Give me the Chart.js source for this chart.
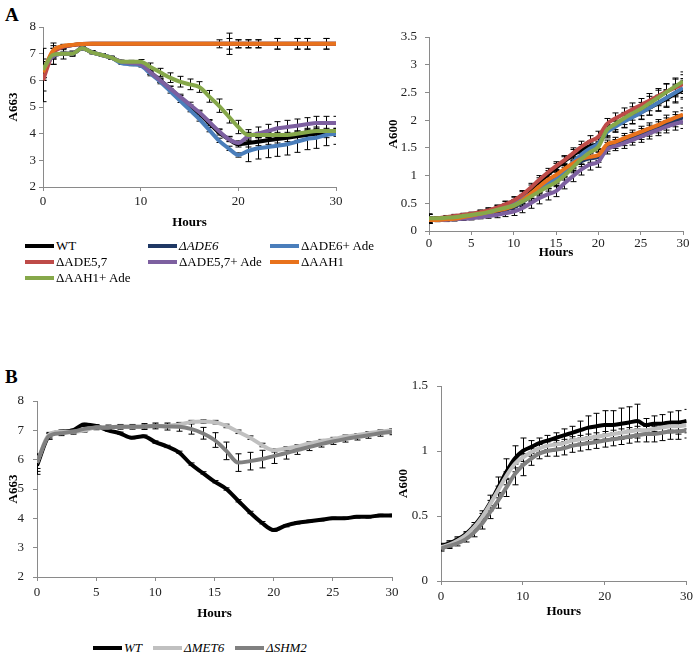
<!DOCTYPE html>
<html>
<head>
<meta charset="utf-8">
<script src="https://cdn.jsdelivr.net/npm/chart.js@4.4.1/dist/chart.umd.min.js"></script>
<style>
  body { margin: 0; background: #fff; width: 697px; height: 655px; position: relative; overflow: hidden; font-family: "Liberation Serif", "Times New Roman", serif; color: #000; }
  .wrap { position: absolute; }
  .tag { position: absolute; font-weight: bold; font-size: 19px; }
  .leg { position: absolute; font-size: 13px; display: flex; align-items: center; white-space: nowrap; height: 14px; }
  .leg .sw { display: inline-block; width: 29px; height: 4px; margin-right: 2px; }
</style>
</head>
<body>

<div class="tag" style="left:5px; top:4px;">A</div>
<div class="tag" style="left:5px; top:366px;">B</div>

<div class="wrap" style="left:0; top:0;"><canvas id="a663" width="350" height="232"></canvas></div>
<div class="wrap" style="left:350px; top:0;"><canvas id="a600" width="347" height="262"></canvas></div>
<div class="wrap" style="left:0; top:330px;"><canvas id="b663" width="410" height="295"></canvas></div>
<div class="wrap" style="left:350px; top:330px;"><canvas id="b600" width="347" height="295"></canvas></div>

<div id="legendA"></div>
<div id="legendB"></div>

<script>
// tempo (h), uma leitura por hora
const hours = [0,1,2,3,4,5,6,7,8,9,10,11,12,13,14,15,16,17,18,19,20,21,22,23,24,25,26,27,28,29,30];

// ---- painel A, A663 ----
const wtA663       = [6.4,6.9,7.0,7.0,7.2,7.05,6.95,6.85,6.7,6.65,6.6,6.3,6.0,5.7,5.35,5.0,4.75,4.4,4.05,3.8,3.6,3.65,3.7,3.75,3.8,3.85,3.9,3.95,4.0,4.0,4.05];
const ade6A663     = [6.3,7.05,7.25,7.32,7.36,7.37,7.37,7.37,7.37,7.37,7.37,7.37,7.37,7.37,7.37,7.37,7.37,7.37,7.37,7.37,7.37,7.37,7.37,7.37,7.37,7.37,7.37,7.37,7.37,7.37,7.37];
const ade6AdeA663  = [6.4,6.9,7.0,7.0,7.2,7.05,6.95,6.85,6.65,6.6,6.55,6.25,5.95,5.6,5.25,4.9,4.55,4.15,3.75,3.45,3.2,3.35,3.45,3.5,3.55,3.6,3.7,3.8,3.85,3.95,4.0];
const ade57A663    = [6.0,7.0,7.25,7.32,7.36,7.37,7.37,7.37,7.37,7.37,7.37,7.37,7.37,7.37,7.37,7.37,7.37,7.37,7.37,7.37,7.37,7.37,7.37,7.37,7.37,7.37,7.37,7.37,7.37,7.37,7.37];
const ade57AdeA663 = [6.4,6.9,7.0,7.0,7.2,7.05,6.95,6.85,6.7,6.65,6.6,6.3,6.0,5.7,5.4,5.1,4.8,4.45,4.1,3.8,3.65,3.9,4.0,4.1,4.2,4.25,4.3,4.35,4.4,4.4,4.4];
const aah1A663     = [6.3,7.1,7.28,7.33,7.36,7.37,7.37,7.37,7.37,7.37,7.37,7.37,7.37,7.37,7.37,7.37,7.37,7.37,7.37,7.37,7.37,7.37,7.37,7.37,7.37,7.37,7.37,7.37,7.37,7.37,7.37];
const aah1AdeA663  = [6.4,6.95,7.0,7.0,7.2,7.05,6.95,6.85,6.7,6.7,6.7,6.5,6.3,6.1,5.95,5.85,5.75,5.4,5.05,4.65,4.25,3.95,3.95,3.95,3.95,3.95,4.0,4.05,4.1,4.1,4.1];

const wtErrA663       = [0.8,0.3,0.2,0.1,0.05,0.05,0.05,0.05,0.05,0.05,0.05,0.08,0.08,0.08,0.08,0.08,0.1,0.1,0.1,0.1,0.1,0.15,0.15,0.15,0.15,0.15,0.15,0.15,0.15,0.15,0.15];
const ade6ErrA663     = [0.3,0.15,0.05,0.03,0.03,0.03,0.03,0.03,0.03,0.03,0.03,0.03,0.03,0.03,0.03,0.03,0.03,0.03,0.15,0.4,0.15,0.15,0.15,0.03,0.2,0.03,0.2,0.2,0.03,0.2,0.03];
const ade6AdeErrA663  = [0.3,0.1,0.05,0.05,0.05,0.05,0.05,0.05,0.05,0.05,0.05,0.08,0.08,0.08,0.08,0.08,0.08,0.08,0.08,0.08,0.08,0.4,0.4,0.4,0.4,0.4,0.4,0.4,0.4,0.4,0.4];
const ade57ErrA663    = [0.8,0.4,0.1,0.05,0.03,0.03,0.03,0.03,0.03,0.03,0.03,0.03,0.03,0.03,0.03,0.03,0.03,0.03,0.03,0.03,0.03,0.03,0.03,0.03,0.03,0.03,0.03,0.03,0.03,0.03,0.03];
const ade57AdeErrA663 = [0.3,0.1,0.05,0.05,0.05,0.05,0.05,0.05,0.05,0.05,0.05,0.08,0.08,0.08,0.08,0.08,0.08,0.08,0.08,0.08,0.08,0.25,0.25,0.25,0.25,0.25,0.25,0.25,0.25,0.25,0.25];
const aah1ErrA663     = [0.3,0.2,0.05,0.03,0.03,0.03,0.03,0.03,0.03,0.03,0.03,0.03,0.03,0.03,0.03,0.03,0.03,0.03,0.03,0.2,0.15,0.15,0.15,0.03,0.2,0.03,0.2,0.2,0.03,0.2,0.03];
const aah1AdeErrA663  = [0.3,0.1,0.05,0.05,0.05,0.05,0.05,0.05,0.05,0.05,0.08,0.15,0.15,0.18,0.2,0.2,0.2,0.22,0.25,0.25,0.25,0.1,0.1,0.1,0.1,0.1,0.1,0.1,0.1,0.1,0.1];

// ---- painel A, A600 ----
const wtA600       = [0.22,0.23,0.24,0.26,0.28,0.3,0.33,0.36,0.41,0.47,0.54,0.63,0.75,0.88,1.01,1.14,1.26,1.37,1.46,1.53,1.58,1.8,1.9,1.98,2.06,2.14,2.22,2.3,2.38,2.47,2.55];
const ade6A600     = [0.2,0.2,0.21,0.22,0.24,0.27,0.3,0.33,0.36,0.39,0.43,0.52,0.63,0.75,0.87,0.97,1.08,1.18,1.26,1.31,1.34,1.52,1.57,1.63,1.69,1.75,1.81,1.87,1.93,1.99,2.05];
const ade6AdeA600  = [0.22,0.22,0.23,0.25,0.27,0.29,0.31,0.34,0.38,0.43,0.5,0.58,0.67,0.76,0.85,0.93,1.07,1.24,1.38,1.49,1.58,1.78,1.88,1.97,2.05,2.13,2.22,2.31,2.4,2.49,2.58];
const ade57A600    = [0.22,0.23,0.25,0.27,0.29,0.31,0.34,0.37,0.42,0.48,0.55,0.65,0.78,0.92,1.05,1.17,1.28,1.4,1.52,1.62,1.7,1.93,2.03,2.11,2.19,2.27,2.35,2.43,2.51,2.58,2.65];
const ade57AdeA600 = [0.2,0.2,0.2,0.21,0.22,0.23,0.25,0.27,0.29,0.32,0.35,0.41,0.5,0.59,0.66,0.72,0.86,0.99,1.11,1.2,1.25,1.47,1.53,1.58,1.64,1.7,1.76,1.82,1.88,1.93,1.97];
const aah1A600     = [0.2,0.2,0.21,0.22,0.25,0.28,0.31,0.34,0.37,0.4,0.45,0.55,0.67,0.8,0.92,1.01,1.12,1.22,1.3,1.34,1.37,1.56,1.61,1.67,1.73,1.79,1.85,1.91,1.98,2.04,2.1];
const aah1AdeA600  = [0.23,0.23,0.24,0.25,0.27,0.29,0.31,0.34,0.38,0.42,0.46,0.53,0.62,0.71,0.8,0.88,1.0,1.15,1.3,1.42,1.52,1.82,1.93,2.03,2.12,2.2,2.3,2.4,2.5,2.6,2.7];

const upperErrA600 = [0.08,0.03,0.03,0.03,0.03,0.03,0.04,0.05,0.05,0.06,0.07,0.08,0.08,0.08,0.08,0.08,0.08,0.1,0.1,0.1,0.1,0.1,0.1,0.11,0.12,0.12,0.13,0.14,0.15,0.16,0.17];
const lowerErrA600 = [0.06,0.03,0.03,0.03,0.03,0.03,0.03,0.04,0.05,0.06,0.07,0.08,0.09,0.1,0.1,0.1,0.1,0.1,0.1,0.1,0.1,0.08,0.08,0.09,0.09,0.1,0.1,0.1,0.11,0.11,0.12];

// ---- painel B, A663 ----
const wtB663   = [5.8,6.8,6.95,7.0,7.2,7.15,7.0,6.9,6.75,6.8,6.6,6.45,6.25,5.85,5.55,5.25,5.0,4.6,4.2,3.85,3.6,3.75,3.85,3.9,3.95,4.0,4.0,4.05,4.05,4.1,4.1];
const met6B663 = [5.9,6.85,6.95,6.95,7.0,7.1,7.1,7.12,7.12,7.13,7.15,7.15,7.2,7.28,7.3,7.28,7.15,6.95,6.75,6.5,6.32,6.38,6.45,6.55,6.63,6.7,6.78,6.83,6.9,6.95,7.0];
const shm2B663 = [5.9,6.8,6.9,6.95,7.05,7.1,7.1,7.12,7.12,7.13,7.15,7.13,7.12,7.05,6.9,6.67,6.3,5.9,5.95,6.02,6.12,6.22,6.33,6.43,6.53,6.62,6.7,6.77,6.83,6.9,6.95];

const wtErrB663   = [0.3,0.1,0.05,0.04,0.04,0.04,0.04,0.04,0.04,0.04,0.04,0.04,0.04,0.04,0.04,0.04,0.04,0.04,0.04,0.04,0.04,0.04,0.04,0.04,0.04,0.04,0.04,0.04,0.04,0.04,0.04];
const met6ErrB663 = [0.2,0.08,0.06,0.06,0.06,0.06,0.06,0.06,0.06,0.06,0.06,0.06,0.06,0.06,0.06,0.06,0.06,0.06,0.06,0.06,0.06,0.06,0.06,0.06,0.06,0.06,0.06,0.06,0.06,0.06,0.06];
const shm2ErrB663 = [0.3,0.1,0.08,0.08,0.08,0.08,0.08,0.08,0.08,0.1,0.1,0.12,0.15,0.18,0.2,0.25,0.3,0.3,0.3,0.3,0.25,0.2,0.15,0.12,0.1,0.1,0.1,0.1,0.1,0.1,0.1];

// ---- painel B, A600 ----
const wtB600   = [0.27,0.29,0.32,0.36,0.42,0.5,0.6,0.72,0.84,0.94,1.0,1.03,1.06,1.08,1.1,1.12,1.14,1.16,1.18,1.19,1.2,1.2,1.21,1.22,1.23,1.2,1.21,1.21,1.22,1.22,1.23];
const met6B600 = [0.26,0.28,0.31,0.35,0.41,0.49,0.59,0.7,0.81,0.9,0.95,0.99,1.02,1.04,1.05,1.06,1.08,1.09,1.1,1.11,1.12,1.13,1.14,1.15,1.16,1.16,1.17,1.18,1.19,1.19,1.2];
const shm2B600 = [0.25,0.27,0.29,0.32,0.37,0.44,0.53,0.62,0.72,0.82,0.89,0.94,0.98,1.0,1.01,1.02,1.04,1.05,1.06,1.07,1.08,1.09,1.1,1.11,1.12,1.13,1.13,1.14,1.15,1.15,1.16];

const wtErrB600   = [0.02,0.02,0.02,0.02,0.03,0.04,0.06,0.08,0.1,0.1,0.1,0.05,0.04,0.04,0.04,0.05,0.05,0.07,0.09,0.1,0.11,0.11,0.12,0.12,0.13,0.05,0.06,0.07,0.08,0.09,0.09];
const met6ErrB600 = [0.02,0.02,0.02,0.02,0.02,0.03,0.03,0.03,0.03,0.03,0.03,0.03,0.03,0.03,0.03,0.03,0.03,0.03,0.03,0.03,0.03,0.03,0.03,0.03,0.03,0.03,0.03,0.03,0.03,0.03,0.03];
const shm2ErrB600 = [0.02,0.02,0.02,0.02,0.03,0.04,0.05,0.06,0.07,0.08,0.08,0.05,0.04,0.04,0.05,0.05,0.05,0.05,0.05,0.05,0.05,0.05,0.05,0.05,0.05,0.06,0.06,0.06,0.06,0.06,0.06];

// ticks
const xTicksA663 = [0,10,20,30];
const xTicksA600 = [0,5,10,15,20,25,30];
const xTicksB663 = [0,5,10,15,20,25,30];
const xTicksB600 = [0,10,20,30];
const yTicksA663 = [2,3,4,5,6,7,8];
const yTicksA600 = [0,0.5,1,1.5,2,2.5,3,3.5];
const yTicksB663 = [2,3,4,5,6,7,8];
const yTicksB600 = [0,0.5,1,1.5];

// series labels / colors
const labelsA = ['WT','ΔADE6','ΔADE6+ Ade','ΔADE5,7','ΔADE5,7+ Ade','ΔAAH1','ΔAAH1+ Ade'];
const coresA  = ['#000000','#1f3864','#4a7ebb','#be4b48','#7d60a0','#e8721c','#86a84a'];
const labelsB = ['WT','ΔMET6','ΔSHM2'];
const coresB  = ['#000000','#c0c0c0','#808080'];

const serifFont = '"Liberation Serif", "Times New Roman", serif';

const errorBars = {
    id: 'errorBars',
    beforeDatasetsDraw(chart) {
        const { ctx, chartArea, scales } = chart;
        ctx.save();
        ctx.beginPath();
        ctx.rect(chartArea.left, chartArea.top - 2, chartArea.right - chartArea.left, chartArea.bottom - chartArea.top + 2);
        ctx.clip();
        ctx.strokeStyle = '#000';
        ctx.lineWidth = 1;
        chart.data.datasets.forEach(ds => {
            if (!ds.errors) return;
            ds.data.forEach((p, i) => {
                const e = ds.errors[i];
                if (!e) return;
                const px = Math.round(scales.x.getPixelForValue(p.x)) + 0.5;
                const t = scales.y.getPixelForValue(p.y + e);
                const b = scales.y.getPixelForValue(p.y - e);
                ctx.beginPath();
                ctx.moveTo(px, t); ctx.lineTo(px, b);
                ctx.moveTo(px - 3, t); ctx.lineTo(px + 3, t);
                ctx.moveTo(px - 3, b); ctx.lineTo(px + 3, b);
                ctx.stroke();
            });
        });
        ctx.restore();
    }
};

function montarSerie(valores, erros, label, cor, idx, total) {
    return {
        label: label,
        data: hours.map((h, i) => ({ x: h, y: valores[i] })),
        errors: erros,
        borderColor: cor,
        backgroundColor: cor,
        borderWidth: 4,
        pointRadius: 0,
        tension: 0.3,
        cubicInterpolationMode: 'monotone',
        fill: false,
        order: total - idx
    };
}

function eixo(ticks, titulo, fitFn, passoPad, tituloPad) {
    return {
        type: 'linear',
        min: ticks[0],
        max: ticks[ticks.length - 1],
        afterBuildTicks: axis => { axis.ticks = ticks.map(v => ({ value: v })); },
        afterFit: fitFn,
        ticks: {
            color: '#222',
            font: { family: serifFont, size: 13 },
            padding: passoPad,
            maxRotation: 0,
            autoSkip: false,
            callback: v => String(v)
        },
        grid: { display: true, drawOnChartArea: false, drawTicks: true, tickLength: 4, color: '#8a8a8a' },
        border: { display: true, color: '#8a8a8a', width: 1 },
        title: {
            display: true,
            text: titulo,
            color: '#000',
            font: { family: serifFont, size: 13, weight: 'bold' },
            padding: { top: tituloPad, bottom: 0 }
        }
    };
}

function plotarPainel(id, datasets, cfg) {
    return new Chart(document.getElementById(id), {
        type: 'line',
        data: { datasets: datasets },
        options: {
            responsive: false,
            animation: false,
            events: [],
            layout: { padding: cfg.padding },
            plugins: { legend: { display: false }, tooltip: { enabled: false } },
            scales: {
                x: eixo(cfg.xTicks, 'Hours', s => { s.height = cfg.xH; }, cfg.xPad, 4),
                y: eixo(cfg.yTicks, cfg.yTitle, s => { s.width = cfg.yW; }, cfg.yPad, 6)
            }
        },
        plugins: [errorBars]
    });
}

const valoresA663 = [wtA663, ade6A663, ade6AdeA663, ade57A663, ade57AdeA663, aah1A663, aah1AdeA663];
const errosA663   = [wtErrA663, ade6ErrA663, ade6AdeErrA663, ade57ErrA663, ade57AdeErrA663, aah1ErrA663, aah1AdeErrA663];
const valoresA600 = [wtA600, ade6A600, ade6AdeA600, ade57A600, ade57AdeA600, aah1A600, aah1AdeA600];
const errosA600   = [upperErrA600, lowerErrA600, upperErrA600, upperErrA600, lowerErrA600, lowerErrA600, upperErrA600];

plotarPainel('a663',
    valoresA663.map((v, i) => montarSerie(v, errosA663[i], labelsA[i], coresA[i], i, 7)),
    { xTicks: xTicksA663, yTicks: yTicksA663, yTitle: 'A663', padding: { left: 0, top: 27, right: 14, bottom: 2 }, xH: 43, yW: 43, xPad: 3, yPad: 3 });

plotarPainel('a600',
    valoresA600.map((v, i) => montarSerie(v, errosA600[i], labelsA[i], coresA[i], i, 7)),
    { xTicks: xTicksA600, yTicks: yTicksA600, yTitle: 'A600', padding: { left: 30, top: 37, right: 14, bottom: 2 }, xH: 29, yW: 49, xPad: 1, yPad: 8 });

plotarPainel('b663',
    [wtB663, met6B663, shm2B663].map((v, i) => montarSerie(v, [wtErrB663, met6ErrB663, shm2ErrB663][i], labelsB[i], coresB[i], i, 3)),
    { xTicks: xTicksB663, yTicks: yTicksB663, yTitle: 'A663', padding: { left: 0, top: 71, right: 18, bottom: 4 }, xH: 44, yW: 37, xPad: 4, yPad: 9 });

plotarPainel('b600',
    [wtB600, met6B600, shm2B600].map((v, i) => montarSerie(v, [wtErrB600, met6ErrB600, shm2ErrB600][i], labelsB[i], coresB[i], i, 3)),
    { xTicks: xTicksB600, yTicks: yTicksB600, yTitle: 'A600', padding: { left: 40, top: 56, right: 10, bottom: 6 }, xH: 38, yW: 51, xPad: 4, yPad: 9 });

// legendas em HTML (grade de 3 colunas como no original)
const posLegA = [[25,239],[148,239],[270,239],[25,255],[148,255],[270,255],[25,271]];
const italicoA = [false, true, false, false, false, false, false];
const legA = document.getElementById('legendA');
labelsA.forEach((txt, i) => {
    const d = document.createElement('div');
    d.className = 'leg';
    d.style.left = posLegA[i][0] + 'px';
    d.style.top = posLegA[i][1] + 'px';
    d.innerHTML = '<span class="sw" style="background:' + coresA[i] + '"></span>' +
        (italicoA[i] ? '<i>' + txt + '</i>' : txt);
    legA.appendChild(d);
});

const posLegB = [93, 153, 235];
const legB = document.getElementById('legendB');
labelsB.forEach((txt, i) => {
    const d = document.createElement('div');
    d.className = 'leg';
    d.style.left = posLegB[i] + 'px';
    d.style.top = '641px';
    d.innerHTML = '<span class="sw" style="background:' + coresB[i] + '"></span><i>' + txt + '</i>';
    legB.appendChild(d);
});
</script>
</body>
</html>
